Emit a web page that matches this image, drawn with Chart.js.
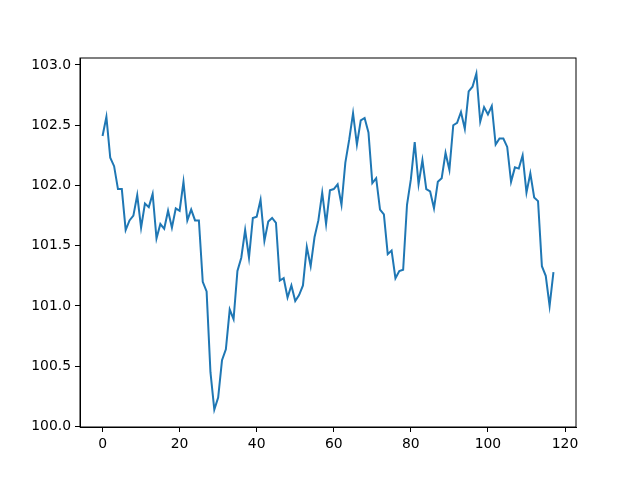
<!DOCTYPE html>
<html>
<head>
<meta charset="utf-8">
<script src="https://cdn.jsdelivr.net/npm/chart.js@4/dist/chart.umd.min.js"></script>
<style>
  body { margin: 0; background: #fff; }
  canvas { display: block; }
</style>
</head>
<body>
<canvas id="chart" width="640" height="480"></canvas>
<script>
// series values (index 0..117)
const values = [
	102.41, 102.57, 102.23, 102.16, 101.97, 101.97, 101.63, 101.71, 101.75, 101.92,
	101.65, 101.85, 101.82, 101.93, 101.56, 101.68, 101.64, 101.79, 101.65, 101.81,
	101.79, 102.03, 101.71, 101.80, 101.71, 101.71, 101.20, 101.12, 100.45, 100.14,
	100.24, 100.55, 100.64, 100.97, 100.89, 101.29, 101.40, 101.63, 101.40, 101.73,
	101.74, 101.88, 101.54, 101.70, 101.73, 101.69, 101.21, 101.23, 101.07, 101.17,
	101.04, 101.09, 101.17, 101.49, 101.33, 101.57, 101.71, 101.94, 101.68, 101.96,
	101.97, 102.01, 101.84, 102.19, 102.38, 102.60, 102.34, 102.54, 102.56, 102.44,
	102.02, 102.06, 101.80, 101.76, 101.43, 101.46, 101.23, 101.29, 101.30, 101.84,
	102.05, 102.36, 102.01, 102.21, 101.97, 101.95, 101.81, 102.03, 102.06, 102.27,
	102.13, 102.50, 102.52, 102.61, 102.47, 102.78, 102.82, 102.93, 102.53, 102.65,
	102.59, 102.66, 102.34, 102.39, 102.39, 102.32, 102.03, 102.15, 102.14, 102.25,
	101.94, 102.10, 101.90, 101.87, 101.33, 101.25, 101.00, 101.28
];
const xTicks = [0, 20, 40, 60, 80, 100, 120];
const yTicks = [100.0, 100.5, 101.0, 101.5, 102.0, 102.5, 103.0];

const font = { family: 'DejaVu Sans', size: 13.9 };

// matplotlib-style box around the axes
const boxPlugin = {
	id: 'box',
	afterDraw(chart) {
		const { ctx, chartArea: a } = chart;
		ctx.save();
		ctx.strokeStyle = '#000';
		ctx.lineWidth = 1;
		ctx.strokeRect(a.left, a.top, a.right - a.left, a.bottom - a.top);
		ctx.restore();
	}
};

new Chart(document.getElementById('chart'), {
	type: 'line',
	data: {
		datasets: [{
			data: values.map((v, i) => ({ x: i, y: v })),
			borderColor: '#1f77b4',
			borderWidth: 2,
			pointRadius: 0,
			tension: 0,
			fill: false
		}]
	},
	options: {
		responsive: false,
		animation: false,
		layout: { padding: { top: 58, right: 64, left: 0, bottom: 0 } },
		plugins: { legend: { display: false }, tooltip: { enabled: false } },
		scales: {
			x: {
				type: 'linear',
				min: -5.85,
				max: 122.85,
				afterBuildTicks: (s) => { s.ticks = xTicks.map(v => ({ value: v })); },
				afterFit: (s) => { s.height = 53; },
				grid: { drawOnChartArea: false, color: '#000', tickLength: 5 },
				border: { color: '#000' },
				ticks: { color: '#000', font, padding: 4, maxRotation: 0, callback: v => String(v) }
			},
			y: {
				min: 99.995,
				max: 103.058,
				afterBuildTicks: (s) => { s.ticks = yTicks.map(v => ({ value: v })); },
				afterFit: (s) => { s.width = 80; },
				grid: { drawOnChartArea: false, color: '#000', tickLength: 5 },
				border: { color: '#000' },
				ticks: { color: '#000', font, padding: 4, callback: v => v.toFixed(1) }
			}
		}
	},
	plugins: [boxPlugin]
});
</script>
</body>
</html>
